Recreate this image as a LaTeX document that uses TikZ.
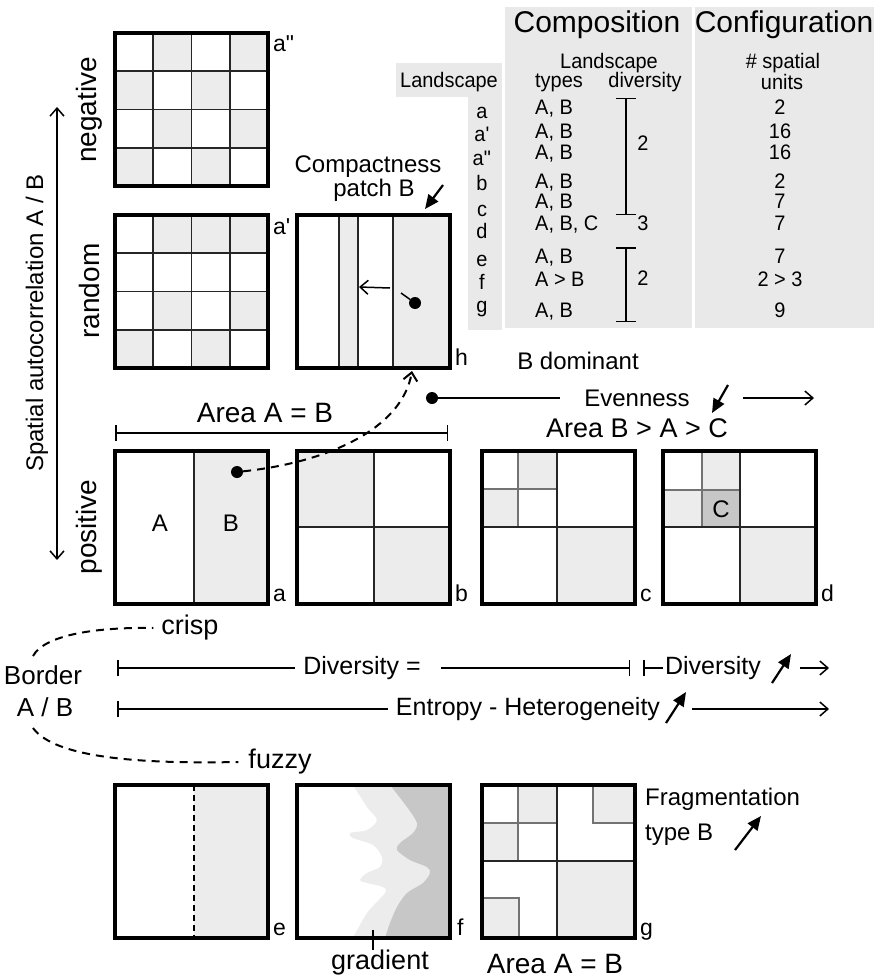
\documentclass[tikz,border=0pt]{standalone}
\usepackage{fontspec}
\setmainfont{Liberation Sans}
\newfontfamily\narrowfont[FakeStretch=0.95]{Liberation Sans}
\usepackage{tikz}
\usetikzlibrary{arrows.meta, positioning, calc}

\definecolor{patchgray}{gray}{0.925}
\definecolor{tablegray}{gray}{0.915}
\definecolor{patchdark}{gray}{0.78}
\newcommand{\fsz}[1]{\fontsize{#1}{#1}\selectfont}

\begin{document}
\begin{tikzpicture}[x=1pt, y=-1pt,
    boxframe/.style={line width=4pt},
    gridline/.style={line width=1.6pt, black!85},
    subline/.style={line width=1.2pt, black!55},
    patchfill/.style={fill=patchgray},
    boxlbl/.style={font=\fsz{23}, inner sep=0pt, anchor=base west},
    txt/.style={font=\fsz{24}, inner sep=0pt},
    tabtxt/.style={font=\narrowfont\fsz{21}, inner sep=0pt},
    openarrow/.style={-{Straight Barb[length=8pt, width=14pt]}, line width=1.5pt},
    trendarrow/.style={-{Triangle[length=14pt, width=12pt]}, line width=2.2pt},
    rangebar/.style={{Bar[width=16pt]}-{Bar[width=16pt]}, line width=1.5pt},
    dashlink/.style={dash pattern=on 8pt off 6pt, line width=2pt},
    blackdot/.style={circle, fill, inner sep=0pt, minimum size=12pt}]
	\useasboundingbox (0,0) rectangle (874,979);

	% Table background
	\fill[tablegray] (505,7) rectangle (692,328);
	\fill[tablegray] (695,7) rectangle (874,328);
	\fill[tablegray] (396,63) rectangle (502,97);
	\fill[tablegray] (468,97) rectangle (502,330);

	% Table headers
	\node[txt, font=\fsz{30}, anchor=base] (comp) at (597,33) {Composition};
	\node[txt, font=\fsz{30}, anchor=base] (config) at (784,33) {Configuration};
	\node[tabtxt, anchor=base] (landsub) at (609,69) {Landscape};
	\node[tabtxt, anchor=base] (types) at (559,88) {types};
	\node[tabtxt, anchor=base] (divers) at (645,88) {diversity};
	\node[tabtxt, anchor=base] (spunits) at (783,69) {\# spatial};
	\node[tabtxt, anchor=base] (units) at (782,90) {units};
	\node[tabtxt, anchor=base] (landhead) at (449,88) {Landscape};

	% Table rows
	\foreach \yl/\yt/\lab/\typ/\num [count=\r] in {118/114/a/{A, B}/2, 142/139/a\textquotesingle/{A, B}/16,
	    165/159/a\textquotedbl/{A, B}/16, 190/188/b/{A, B}/2, 216/208/c/{A, B}/7, 238/230/d/{A, B, C}/7,
	    266/263/e/{A, B}/7, 289/286/f/{A > B}/{2 > 3}, 312/317/g/{A, B}/9} {
		\node[tabtxt, anchor=base] (land\r) at (482,\yl) {\lab};
		\node[tabtxt, anchor=base west] (type\r) at (535,\yt) {\typ};
		\node[tabtxt, anchor=base] (unit\r) at (780,\yt) {\num};
	}

	% Diversity brackets
	\draw[rangebar, {Bar[width=20pt]}-{Bar[width=20pt]}] (626,98) -- (626,215);
	\draw[rangebar, {Bar[width=20pt]}-{Bar[width=20pt]}] (626,247) -- (626,322);
	\node[tabtxt] (div1) at (643,143) {2};
	\node[tabtxt] (div2) at (643,223) {3};
	\node[tabtxt] (div3) at (643,278) {2};

	% Spatial autocorrelation axis
	\coordinate (autotop) at (57,107);
	\coordinate (autobot) at (57,560);
	\draw[openarrow, {Straight Barb[length=8pt, width=14pt]}-{Straight Barb[length=8pt, width=14pt]}] (autotop) -- (autobot);
	\node[txt, rotate=90] (spatial) at (37,323) {Spatial autocorrelation A / B};
	\node[txt, font=\fsz{28}, rotate=90] (neg) at (89,110) {negative};
	\node[txt, font=\fsz{28}, rotate=90] (rand) at (89,291) {random};
	\node[txt, font=\fsz{28}, rotate=90] (pos) at (89,527) {positive};

	% Landscape a'' (checkerboard)
	\begin{scope}[shift={(115,33)}]
		\foreach \i/\j in {1/0,3/0,0/1,2/1,1/2,3/2,0/3,2/3}
			\fill[patchfill] (38.25*\i,38.25*\j) rectangle ++(38.25,38.25);
		\foreach \k in {1,2,3}
			\draw[gridline] (38.25*\k,0) -- (38.25*\k,153) (0,38.25*\k) -- (153,38.25*\k);
		\draw[boxframe] (0,0) rectangle (153,153);
		\node[boxlbl] (lblapp) at (158,19) {a\textquotedbl};
	\end{scope}

	% Landscape a' (random)
	\begin{scope}[shift={(115,215)}]
		\foreach \i/\j in {1/0,2/0,3/0,1/2,3/2,0/3,2/3}
			\fill[patchfill] (38.25*\i,38.25*\j) rectangle ++(38.25,38.25);
		\foreach \k in {1,2,3}
			\draw[gridline] (38.25*\k,0) -- (38.25*\k,153) (0,38.25*\k) -- (153,38.25*\k);
		\draw[boxframe] (0,0) rectangle (153,153);
		\node[boxlbl] (lblap) at (158,19) {a\textquotesingle};
	\end{scope}

	% Landscape h (compactness)
	\begin{scope}[shift={(297,215)}]
		\fill[patchfill] (42,0) rectangle (61,153);
		\fill[patchfill] (96,0) rectangle (153,153);
		\draw[gridline] (42,0) -- (42,153) (61,0) -- (61,153) (96,0) -- (96,153);
		\draw[boxframe] (0,0) rectangle (153,153);
		\node[boxlbl] (lblh) at (158,150) {h};
		\node[blackdot] (hdot) at (118,88) {};
		\coordinate (hstub) at (104,78);
		\coordinate (hfrom) at (93,73);
		\coordinate (hto) at (62,72);
		\coordinate (hbottom) at (115,156);
	\end{scope}
	\draw[line width=1.5pt] (hdot) -- (hstub);
	\draw[openarrow] (hfrom) -- (hto);
	\node[txt] (compact) at (368,167) {Compactness};
	\node[txt] (patchB) at (374,190) {patch B};
	\coordinate (compfrom) at (443,185);
	\coordinate (compto) at (425,209);
	\draw[trendarrow] (compfrom) -- (compto);

	% Landscape a
	\begin{scope}[shift={(115,451)}]
		\fill[patchfill] (79,0) rectangle (153,153);
		\draw[gridline] (79,0) -- (79,153);
		\draw[boxframe] (0,0) rectangle (153,153);
		\node[txt] (typeA) at (45,72) {A};
		\node[txt] (typeB) at (116,72) {B};
		\node[boxlbl] (lbla) at (158,150) {a};
	\end{scope}

	% Landscape b
	\begin{scope}[shift={(297,451)}]
		\fill[patchfill] (0,0) rectangle (77,76) (77,76) rectangle (153,153);
		\draw[gridline] (77,0) -- (77,153) (0,76) -- (153,76);
		\draw[boxframe] (0,0) rectangle (153,153);
		\node[boxlbl] (lblb) at (158,150) {b};
	\end{scope}

	% Landscape c
	\begin{scope}[shift={(482,451)}]
		\fill[patchfill] (36,0) rectangle (75,38) (0,38) rectangle (36,76) (75,76) rectangle (153,153);
		\draw[subline] (36,0) -- (36,76) (0,38) -- (75,38);
		\draw[gridline] (75,0) -- (75,153) (0,76) -- (153,76);
		\draw[boxframe] (0,0) rectangle (153,153);
		\node[boxlbl] (lblc) at (158,150) {c};
	\end{scope}

	% Landscape d
	\begin{scope}[shift={(663,451)}]
		\fill[patchfill] (39,0) rectangle (77,39) (0,39) rectangle (39,76) (77,76) rectangle (153,153);
		\fill[patchdark] (39,39) rectangle (77,76);
		\draw[subline] (39,0) -- (39,76) (0,39) -- (77,39);
		\draw[gridline] (77,0) -- (77,153) (0,76) -- (153,76);
		\draw[boxframe] (0,0) rectangle (153,153);
		\node[txt] (typeC) at (58,58) {C};
		\node[boxlbl] (lbld) at (158,150) {d};
	\end{scope}

	% Area A = B and compactness link
	\node[txt, font=\fsz{28}] (areaAB) at (265,413) {Area A = B};
	\coordinate (areaL) at (115,433);
	\coordinate (areaR) at (448,433);
	\draw[rangebar] (areaL) -- (areaR);
	\node[blackdot] (adot) at (237,472) {};
	\draw[dashlink, -{Straight Barb[length=8pt, width=14pt]}] (adot) .. controls (330,462) and (402,428) .. (hbottom);

	% Evenness
	\node[txt] (bdom) at (578,361) {B dominant};
	\node[blackdot] (evdot) at (432,398) {};
	\node[txt] (even) at (637,398) {Evenness};
	\node[txt, font=\fsz{27}] (areaBAC) at (637,428) {Area B > A > C};
	\draw[line width=1.5pt, shorten >=24pt] (evdot) -- (even.west);
	\coordinate (evfrom) at (728,385);
	\coordinate (evto) at (712,413);
	\draw[trendarrow] (evfrom) -- (evto);
	\coordinate (evstart) at (743,398);
	\coordinate (evend) at (814,398);
	\draw[openarrow] (evstart) -- (evend);

	% Border A / B
	\node[txt, font=\fsz{26}] (border) at (43,675) {Border};
	\node[txt, font=\fsz{26}] (borderAB) at (45,707) {A / B};
	\node[txt, font=\fsz{27}] (crisp) at (190,628) {crisp};
	\node[txt, font=\fsz{27}] (fuzzy) at (280,762) {fuzzy};
	\coordinate (crispstart) at (33,656);
	\coordinate (fuzzystart) at (33,728);
	\draw[dashlink] (crispstart) .. controls (45,634) and (100,627) .. ([xshift=-8pt]crisp.west);
	\draw[dashlink] (fuzzystart) .. controls (55,758) and (140,764) .. ([xshift=-10pt]fuzzy.west);

	% Diversity
	\node[txt, font=\fsz{25}] (diveq) at (362,668) {Diversity =};
	\node[txt, font=\fsz{25}] (divup) at (713,668) {Diversity};
	\coordinate (divL) at (117,668);
	\coordinate (divM) at (630,668);
	\coordinate (divN) at (643,668);
	\draw[line width=1.5pt, {Bar[width=16pt]}-] (divL) -- ([xshift=-8pt]diveq.west);
	\draw[line width=1.5pt, -{Bar[width=16pt]}] ([xshift=20pt]diveq.east) -- (divM);
	\draw[line width=1.5pt, {Bar[width=16pt]}-] (divN) -- ([xshift=-2pt]divup.west);
	\coordinate (divfrom) at (772,683);
	\coordinate (divto) at (791,654);
	\draw[trendarrow] (divfrom) -- (divto);
	\coordinate (divstart) at (800,668);
	\coordinate (divend) at (829,668);
	\draw[openarrow] (divstart) -- (divend);

	% Entropy
	\node[txt, font=\fsz{25}] (entropy) at (528,709) {Entropy - Heterogeneity};
	\coordinate (entL) at (117,709);
	\draw[line width=1.5pt, {Bar[width=16pt]}-] (entL) -- ([xshift=-8pt]entropy.west);
	\coordinate (entfrom) at (666,723);
	\coordinate (entto) at (686,692);
	\draw[trendarrow] (entfrom) -- (entto);
	\coordinate (entstart) at (692,709);
	\coordinate (entend) at (829,709);
	\draw[openarrow] (entstart) -- (entend);

	% Landscape e
	\begin{scope}[shift={(115,785)}]
		\fill[patchfill] (79,0) rectangle (153,153);
		\draw[line width=2pt, dash pattern=on 6pt off 4pt] (79,0) -- (79,153);
		\draw[boxframe] (0,0) rectangle (153,153);
		\node[boxlbl] (lble) at (158,150) {e};
	\end{scope}

	% Landscape f (gradient)
	\begin{scope}[shift={(297,785)}]
		\fill[patchfill] plot[smooth] coordinates {(56,0) (70,22) (80,35) (70,45) (53,48) (56,53) (76,60) (85,72)
		    (83,82) (70,88) (63,95) (70,98) (86,102) (88,108) (70,128) (56,153)} -- (153,153) -- (153,0) -- cycle;
		\fill[patchdark] plot[smooth] coordinates {(93,0) (110,22) (120,38) (116,48) (103,58) (100,65) (113,75)
		    (130,82) (133,88) (126,98) (110,108) (100,122) (93,138) (88,153)} -- (153,153) -- (153,0) -- cycle;
		\draw[boxframe] (0,0) rectangle (153,153);
		\node[boxlbl] (lblf) at (160,150) {f};
		\coordinate (gradtick) at (76,145);
	\end{scope}
	\node[txt, font=\fsz{27}] (gradient) at (380,963) {gradient};
	\draw[line width=1.5pt] (gradtick) -- (gradtick |- gradient.north);

	% Landscape g (fragmentation)
	\begin{scope}[shift={(482,785)}]
		\fill[patchfill] (36,0) rectangle (75,38) (0,38) rectangle (36,76) (75,76) rectangle (153,153)
		    (111,0) rectangle (153,38) (0,113) rectangle (37,153);
		\draw[subline] (36,0) -- (36,76) (0,38) -- (75,38) (111,0) -- (111,38) -- (153,38) (0,113) -- (37,113) -- (37,153);
		\draw[gridline] (75,0) -- (75,153) (0,76) -- (153,76);
		\draw[boxframe] (0,0) rectangle (153,153);
		\node[boxlbl] (lblg) at (158,150) {g};
	\end{scope}
	\node[txt, font=\fsz{28}] (areaAB2) at (555,964) {Area A = B};
	\node[txt, anchor=base west] (frag) at (645,805) {Fragmentation};
	\node[txt, anchor=base west] (typeBfrag) at (645,840) {type B};
	\coordinate (fragfrom) at (735,850);
	\coordinate (fragto) at (761,816);
	\draw[trendarrow] (fragfrom) -- (fragto);
\end{tikzpicture}
\end{document}
